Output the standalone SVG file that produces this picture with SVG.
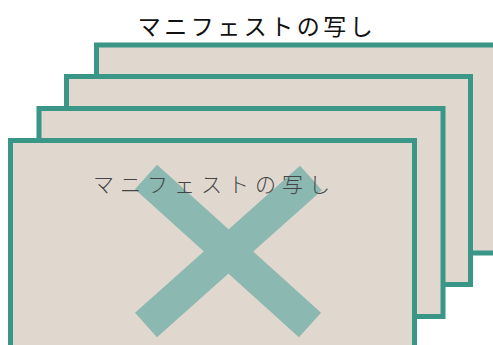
<svg xmlns="http://www.w3.org/2000/svg" width="493" height="345" viewBox="0 0 493 345">
<style>
.card{fill:#e0d7cf;stroke:#3a9686;stroke-width:5}
.title{font-family:"Noto Sans CJK JP","Noto Sans",sans-serif;font-size:23px;fill:#111;text-anchor:middle;letter-spacing:3.5px}
.inner{font-family:"Noto Sans CJK JP",sans-serif;font-size:21px;font-weight:300;fill:#444;letter-spacing:6px}
.xbar{stroke:#8bb8b0;stroke-width:33;stroke-linecap:butt}
</style>
<rect width="493" height="345" fill="#ffffff"/>
<text class="title" x="257" y="35">マニフェストの写し</text>
<g id="card4"><rect class="card" x="96.5" y="45" width="404" height="208"/></g>
<g id="card3"><rect class="card" x="66.5" y="76.5" width="404" height="208"/></g>
<g id="card2"><rect class="card" x="39" y="108.5" width="404" height="208"/></g>
<g id="card1">
<rect class="card" x="10.5" y="140.5" width="404" height="208"/>
<line class="xbar" x1="146" y1="177" x2="310" y2="325"/>
<line class="xbar" x1="311" y1="178" x2="146" y2="325"/>
<text class="inner" x="93" y="192">マニフェストの写し</text>
</g>
<g id="connectors"/>
</svg>
